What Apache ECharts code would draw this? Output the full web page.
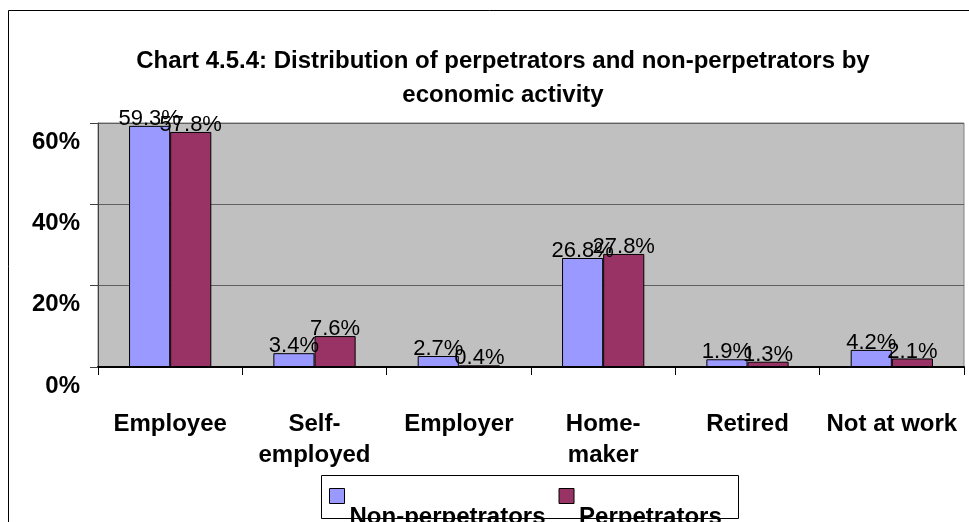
<!DOCTYPE html>
<html>
<head>
<meta charset="utf-8">
<script src="https://cdn.jsdelivr.net/npm/echarts@6/dist/echarts.min.js"></script>
<style>
html,body{margin:0;padding:0;background:#fff;}
#chart{width:969px;height:522px;}
</style>
</head>
<body>
<div id="chart"></div>
<script>
const categories = ['Employee', 'Self-\nemployed', 'Employer', 'Home-\nmaker', 'Retired', 'Not at work'];
const nonPerpetrators = [59.3, 3.4, 2.7, 26.8, 1.9, 4.2];
const perpetrators = [57.8, 7.6, 0.4, 27.8, 1.3, 2.1];
const seriesNames = ['Non-perpetrators', 'Perpetrators'];
const titleText = 'Chart 4.5.4: Distribution of perpetrators and non-perpetrators by\neconomic activity';

const FONT = '"Liberation Sans", Arial, sans-serif';
const chart = echarts.init(document.getElementById('chart'), null, {renderer: 'canvas'});

const labelCfg = {
  show: true,
  position: 'top',
  distance: -4,
  color: '#000',
  fontFamily: FONT,
  fontSize: 22,
  formatter: p => p.value.toFixed(1) + '%'
};

chart.setOption({
  animation: false,
  backgroundColor: '#fff',
  title: {
    text: titleText,
    left: 503,
    textAlign: 'center',
    top: 44,
    padding: 0,
    textStyle: {fontFamily: FONT, fontSize: 24, fontWeight: 'bold', color: '#000', lineHeight: 34}
  },
  graphic: [
    {type: 'rect', z: -10, shape: {x: 8.5, y: 10.5, width: 1000, height: 600},
     style: {fill: '#fff', stroke: '#000', lineWidth: 1}},
    {type: 'rect', z: -5, shape: {x: 321.5, y: 475.5, width: 417, height: 43},
     style: {fill: '#fff', stroke: '#000', lineWidth: 1}}
  ],
  legend: {
    data: seriesNames,
    left: 329,
    top: 454,
    itemWidth: 15,
    itemHeight: 15,
    itemGap: 13,
    padding: 0,
    icon: 'rect',
    itemStyle: {borderColor: '#000', borderWidth: 1},
    formatter: name => '\n' + name,
    textStyle: {fontFamily: FONT, fontSize: 24, fontWeight: 'bold', color: '#000', lineHeight: 42}
  },
  grid: {
    left: 98, right: 5, top: 123, bottom: 155,
    show: true, backgroundColor: '#C0C0C0', borderColor: '#808080', borderWidth: 1
  },
  xAxis: {
    type: 'category',
    data: categories,
    axisLine: {show: true, lineStyle: {color: '#000', width: 2}},
    axisTick: {show: true, length: 8, lineStyle: {color: '#000'}},
    axisLabel: {
      interval: 0, margin: 42, fontFamily: FONT, fontSize: 24, fontWeight: 'bold',
      color: '#000', lineHeight: 31
    }
  },
  yAxis: {
    type: 'value',
    min: 0, max: 60, interval: 20,
    axisLine: {show: true, lineStyle: {color: '#404040'}},
    axisTick: {show: true, length: 8, lineStyle: {color: '#404040'}},
    splitLine: {show: true, lineStyle: {color: '#606060', width: 1}},
    axisLabel: {
      formatter: v => '\n' + v + '%', margin: 18, fontFamily: FONT, fontSize: 24, fontWeight: 'bold',
      color: '#000', lineHeight: 38
    }
  },
  series: [
    {
      name: seriesNames[0], type: 'bar', data: nonPerpetrators,
      barGap: '0%', barCategoryGap: '43%',
      itemStyle: {color: '#9999FF', borderColor: '#000', borderWidth: 1},
      label: labelCfg
    },
    {
      name: seriesNames[1], type: 'bar', data: perpetrators,
      barGap: '0%', barCategoryGap: '43%',
      itemStyle: {color: '#993366', borderColor: '#000', borderWidth: 1},
      label: labelCfg
    }
  ]
});
</script>
</body>
</html>
